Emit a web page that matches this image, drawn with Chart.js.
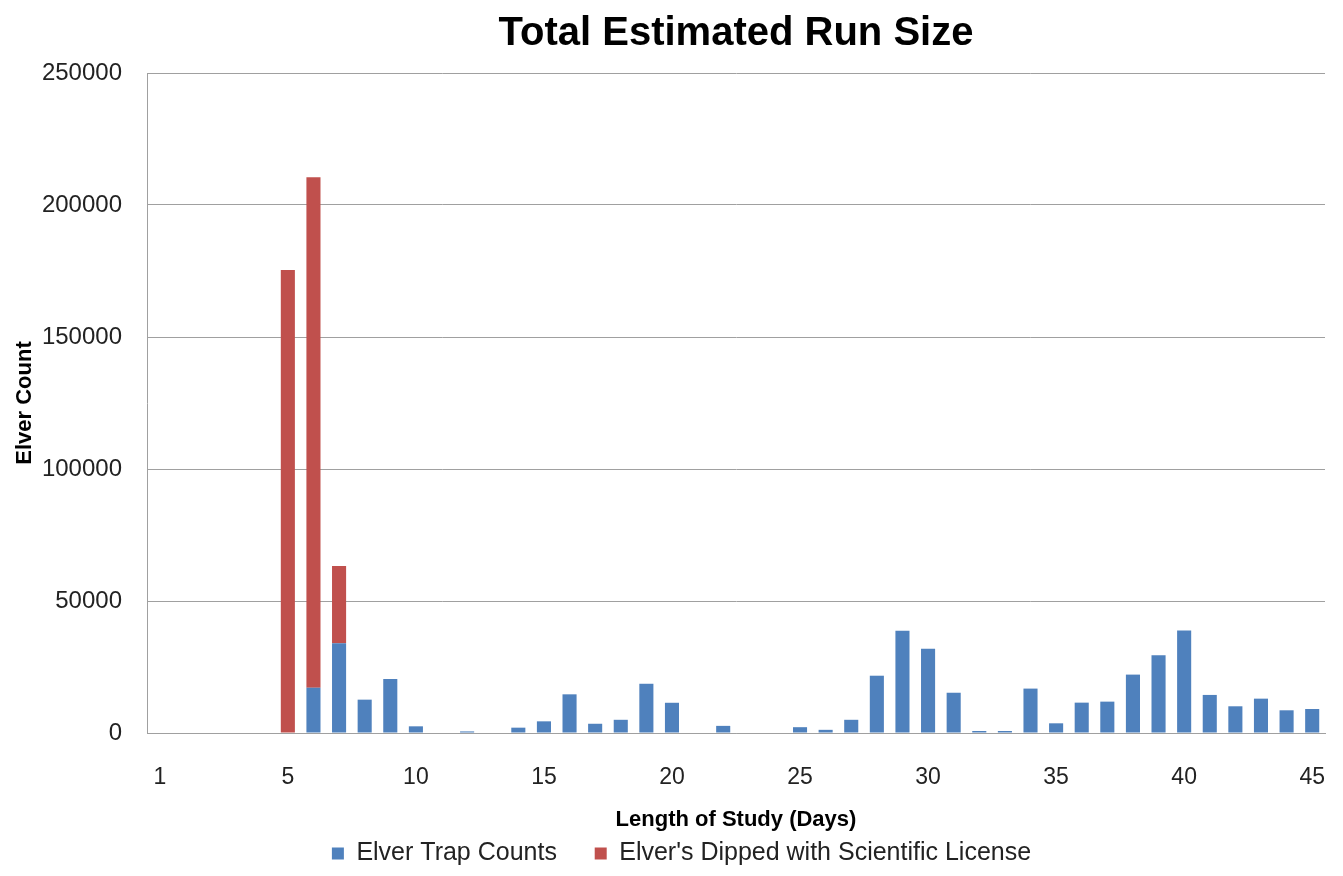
<!DOCTYPE html>
<html>
<head>
<meta charset="utf-8">
<title>Total Estimated Run Size</title>
<script src="https://cdn.jsdelivr.net/npm/chart.js@4.4.1/dist/chart.umd.min.js"></script>
<style>
  html, body { margin: 0; padding: 0; background: #fff; }
  #chart { display: block; }
</style>
</head>
<body>
<canvas id="chart" width="1343" height="876"></canvas>
<script>
// x categories, only every 5th one gets a label (first one is "1")
const dayTicks = [
    '1', '', '', '', '', '5', '', '', '', '', '10',
    '', '', '', '', '15', '', '', '', '', '20',
    '', '', '', '', '25', '', '', '', '', '30',
    '', '', '', '', '35', '', '', '', '', '40',
    '', '', '', '', '45'
];

// blue series
const trapCounts = [
    0, 0, 0, 0, 0, 0, 17150, 33970, 12630, 20450, 2530,
    0, 600, 0, 2020, 4420, 14650, 3500, 5000, 18650, 11450,
    0, 2700, 0, 0, 2200, 1200, 5000, 21700, 38770, 31940,
    15250, 760, 760, 16820, 3670, 11500, 11880, 22120, 29470, 38820,
    14420, 10120, 13010, 8600, 9100
];

// red series, stacked on top of the blue one
const dippedCounts = [
    0, 0, 0, 0, 0, 175400, 193350, 29290, 0, 0, 0,
    0, 0, 0, 0, 0, 0, 0, 0, 0, 0,
    0, 0, 0, 0, 0, 0, 0, 0, 0, 0,
    0, 0, 0, 0, 0, 0, 0, 0, 0, 0,
    0, 0, 0, 0, 0
];

const yTicks = [0, 50000, 100000, 150000, 200000, 250000];

const gridGray = '#a0a0a0';
const fontFamily = '"Liberation Sans", Arial, sans-serif';
// left padding only moves the legend centre; the y axis width takes it back
// (must stay left of the tick labels, chart.js clips them to the axis box)
const padLeft = 38;

const ctx = document.getElementById('chart');
const chart = new Chart(ctx, {
    type: 'bar',
    data: {
        labels: dayTicks,
        datasets: [
            {
                label: 'Elver Trap Counts',
                data: trapCounts,
                backgroundColor: '#4f81bd',
                borderWidth: 0
            },
            {
                label: "Elver's Dipped with Scientific License",
                data: dippedCounts,
                backgroundColor: '#c0504d',
                borderWidth: 0
            }
        ]
    },
    options: {
        responsive: false,
        animation: false,
        devicePixelRatio: 1,
        layout: { padding: { left: padLeft, right: 18, top: 0, bottom: 0 } },
        datasets: {
            bar: { categoryPercentage: 1.0, barPercentage: 0.55 }
        },
        plugins: {
            title: {
                display: true,
                text: 'Total Estimated Run Size',
                fullSize: false,
                color: '#000',
                font: { family: fontFamily, size: 40, weight: 'bold', lineHeight: 1.2 },
                padding: { top: 10, bottom: 15 }
            },
            legend: {
                position: 'bottom',
                labels: {
                    color: '#222',
                    boxWidth: 12,
                    boxHeight: 12,
                    padding: 10,
                    font: { family: fontFamily, size: 25, lineHeight: 0.8 },
                    // Excel leaves a wide gap between the two entries
                    generateLabels: chart => {
                        const items = Chart.defaults.plugins.legend.labels.generateLabels(chart);
                        items.forEach((item, i) => {
                            if (i < items.length - 1) item.text = item.text + '    ';
                        });
                        return items;
                    }
                }
            },
            tooltip: { enabled: false }
        },
        scales: {
            x: {
                stacked: true,
                grid: { display: false, drawTicks: false },
                border: { display: true, color: gridGray, width: 1 },
                ticks: {
                    autoSkip: false,
                    maxRotation: 0,
                    minRotation: 0,
                    padding: 31,
                    color: '#222',
                    font: { family: fontFamily, size: 23 }
                },
                title: {
                    display: true,
                    text: 'Length of Study (Days)',
                    color: '#000',
                    font: { family: fontFamily, size: 22, weight: 'bold', lineHeight: 1.0 },
                    padding: { top: 0, bottom: 0 }
                },
                afterFit: scale => {
                    scale.height = 98;
                    // the last label may hang past the plot, like Excel does
                    scale.paddingLeft = 0;
                    scale.paddingRight = 0;
                }
            },
            y: {
                stacked: true,
                min: 0,
                max: 250000,
                afterBuildTicks: scale => {
                    scale.ticks = yTicks.map(v => ({ value: v }));
                },
                grid: { color: gridGray, lineWidth: 1, drawTicks: false },
                border: { display: true, color: gridGray, width: 1 },
                ticks: {
                    padding: 25,
                    color: '#222',
                    font: { family: fontFamily, size: 24 },
                    callback: v => String(v)
                },
                title: {
                    display: true,
                    text: 'Elver Count',
                    color: '#000',
                    font: { family: fontFamily, size: 22, weight: 'bold' },
                    padding: { top: 12 - padLeft, bottom: 0 }
                },
                afterFit: scale => { scale.width = 147 - padLeft; }
            }
        }
    }
});
console.log(JSON.stringify(chart.chartArea));
</script>
</body>
</html>
